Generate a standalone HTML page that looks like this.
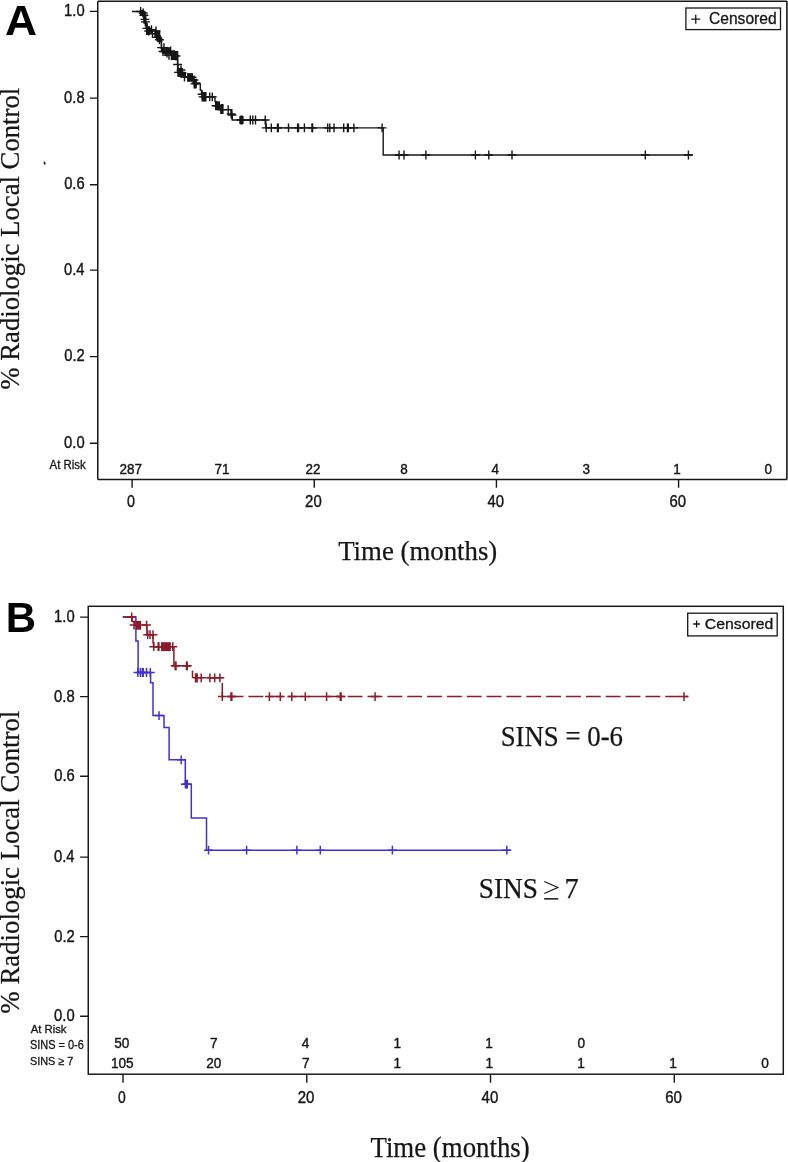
<!DOCTYPE html>
<html><head><meta charset="utf-8"><style>
html,body{margin:0;padding:0;background:#fff;}
body{width:788px;height:1162px;overflow:hidden;}
svg{display:block;will-change:transform;}
</style></head><body>
<svg width="788" height="1162" viewBox="0 0 788 1162">
<rect width="788" height="1162" fill="#fff"/>
<g stroke="#161616" fill="none">
<path d="M97.75 1.3V479.5" stroke-width="1.5"/>
<path d="M97.75 1.3H786.9" stroke-width="1.4"/>
<path d="M786.9 1.3V479.5" stroke-width="1.6"/>
<path d="M97.75 479.5H786.9" stroke-width="1.4"/>
</g>
<path d="M89.9 11.4H97.75M89.9 98.1H97.75M89.9 184.7H97.75M89.9 270.1H97.75M89.9 356.6H97.75M89.9 443.3H97.75M132.1 479.5V487.8M314.26 479.5V487.8M496.42 479.5V487.8M678.58 479.5V487.8" stroke="#161616" stroke-width="1.4" fill="none"/>
<text x="64.11" y="16.00" font-size="16.30" font-family="Liberation Sans, sans-serif" fill="#161616" stroke="#161616" stroke-width="0.4" textLength="20.48" lengthAdjust="spacingAndGlyphs">1.0</text>
<text x="64.11" y="103.00" font-size="16.30" font-family="Liberation Sans, sans-serif" fill="#161616" stroke="#161616" stroke-width="0.4" textLength="20.48" lengthAdjust="spacingAndGlyphs">0.8</text>
<text x="64.18" y="189.00" font-size="16.30" font-family="Liberation Sans, sans-serif" fill="#161616" stroke="#161616" stroke-width="0.4" textLength="20.48" lengthAdjust="spacingAndGlyphs">0.6</text>
<text x="63.96" y="275.00" font-size="16.30" font-family="Liberation Sans, sans-serif" fill="#161616" stroke="#161616" stroke-width="0.4" textLength="20.48" lengthAdjust="spacingAndGlyphs">0.4</text>
<text x="64.26" y="361.00" font-size="16.30" font-family="Liberation Sans, sans-serif" fill="#161616" stroke="#161616" stroke-width="0.4" textLength="20.48" lengthAdjust="spacingAndGlyphs">0.2</text>
<text x="64.11" y="448.00" font-size="16.30" font-family="Liberation Sans, sans-serif" fill="#161616" stroke="#161616" stroke-width="0.4" textLength="20.48" lengthAdjust="spacingAndGlyphs">0.0</text>
<text x="127.03" y="507.00" font-size="16.30" font-family="Liberation Sans, sans-serif" fill="#161616" stroke="#161616" stroke-width="0.4" textLength="7.96" lengthAdjust="spacingAndGlyphs">0</text>
<text x="305.11" y="507.00" font-size="16.30" font-family="Liberation Sans, sans-serif" fill="#161616" stroke="#161616" stroke-width="0.4" textLength="16.58" lengthAdjust="spacingAndGlyphs">20</text>
<text x="487.46" y="507.00" font-size="16.30" font-family="Liberation Sans, sans-serif" fill="#161616" stroke="#161616" stroke-width="0.4" textLength="16.58" lengthAdjust="spacingAndGlyphs">40</text>
<text x="669.43" y="507.00" font-size="16.30" font-family="Liberation Sans, sans-serif" fill="#161616" stroke="#161616" stroke-width="0.4" textLength="16.58" lengthAdjust="spacingAndGlyphs">60</text>
<text x="49.54" y="468.58" font-size="11.97" font-family="Liberation Sans, sans-serif" fill="#161616" stroke="#161616" stroke-width="0.3" textLength="36.18" lengthAdjust="spacingAndGlyphs">At Risk</text>
<text x="119.58" y="474.00" font-size="14.20" font-family="Liberation Sans, sans-serif" fill="#161616" stroke="#161616" stroke-width="0.4" textLength="22.50" lengthAdjust="spacingAndGlyphs">287</text>
<text x="214.40" y="474.00" font-size="14.20" font-family="Liberation Sans, sans-serif" fill="#161616" stroke="#161616" stroke-width="0.4" textLength="15.00" lengthAdjust="spacingAndGlyphs">71</text>
<text x="305.48" y="474.00" font-size="14.20" font-family="Liberation Sans, sans-serif" fill="#161616" stroke="#161616" stroke-width="0.4" textLength="15.00" lengthAdjust="spacingAndGlyphs">22</text>
<text x="400.26" y="474.00" font-size="14.20" font-family="Liberation Sans, sans-serif" fill="#161616" stroke="#161616" stroke-width="0.4" textLength="7.50" lengthAdjust="spacingAndGlyphs">8</text>
<text x="491.41" y="474.00" font-size="14.20" font-family="Liberation Sans, sans-serif" fill="#161616" stroke="#161616" stroke-width="0.4" textLength="7.50" lengthAdjust="spacingAndGlyphs">4</text>
<text x="582.49" y="474.00" font-size="14.20" font-family="Liberation Sans, sans-serif" fill="#161616" stroke="#161616" stroke-width="0.4" textLength="7.50" lengthAdjust="spacingAndGlyphs">3</text>
<text x="673.37" y="474.00" font-size="14.20" font-family="Liberation Sans, sans-serif" fill="#161616" stroke="#161616" stroke-width="0.4" textLength="7.50" lengthAdjust="spacingAndGlyphs">1</text>
<text x="764.62" y="474.00" font-size="14.20" font-family="Liberation Sans, sans-serif" fill="#161616" stroke="#161616" stroke-width="0.4" textLength="7.50" lengthAdjust="spacingAndGlyphs">0</text>
<rect x="685.9" y="8.0" width="94.6" height="21.6" fill="#fff" stroke="#161616" stroke-width="1.3"/>
<path d="M691.3 19.2H700.2M695.75 14.7V23.8" stroke="#161616" stroke-width="1.3"/>
<text x="709.02" y="23.74" font-size="15.65" font-family="Liberation Sans, sans-serif" fill="#161616" stroke="#161616" stroke-width="0.3" textLength="67.61" lengthAdjust="spacingAndGlyphs">Censored</text>
<ellipse cx="44.6" cy="163.1" rx="0.9" ry="1.7" transform="rotate(-20 44.6 163.1)" fill="#222"/>
<text x="4.99" y="34.90" font-size="43.19" font-family="Liberation Sans, sans-serif" font-weight="bold" fill="#000" textLength="32.01" lengthAdjust="spacingAndGlyphs">A</text>
<text x="338.16" y="560.00" font-size="27.33" font-family="Liberation Serif, serif" fill="#161616" stroke="#161616" stroke-width="0.25" textLength="159.14" lengthAdjust="spacingAndGlyphs">Time (months)</text>
<text transform="translate(18.80 0) rotate(-90)" x="-389.73" y="0" font-size="27.00" font-family="Liberation Serif, serif" fill="#161616" stroke="#161616" stroke-width="0.25" textLength="301.92" lengthAdjust="spacingAndGlyphs">% Radiologic Local Control</text>
<path d="M132 11.5L142.5 11.5L142.5 15.3L144 15.3L144 19.4L145 19.4L145 21.9L146 21.9L146 28.4L147.5 28.4L147.5 31L151 31L151 33.6L156 33.6L156 37.4L159 37.4L159 39.8L161.4 39.8L161.4 47.6L163 47.6L163 51.5L166 51.5L166 55.4L177.6 55.4L177.6 64.5L178 64.5L178 72.4L184 72.4L184 77.3L193.5 77.3L193.5 83.9L200.3 83.9L200.3 90.1L201.5 90.1L201.5 94.3L203 94.3L203 96.9L215 96.9L215 101.5L216 101.5L216 105.8L220 105.8L220 109.6L231 109.6L231 115L232.3 115L232.3 120L265.8 120L265.8 127.9L383.2 127.9L383.2 155L692.9 155" stroke="#161616" stroke-width="1.4" fill="none"/>
<g stroke="#161616" stroke-width="1.4" fill="none"><path d="M136.2 11.5H145M140.6 7.1V15.9"/><path d="M138.8 13H147.6M143.2 8.6V17.4"/><path d="M139.6 15.3H148.4M144 10.9V19.7"/><path d="M140.6 19.4H149.4M145 15V23.8"/><path d="M141.1 21.9H149.9M145.5 17.5V26.3"/><path d="M142.6 28.4H151.4M147 24V32.8"/><path d="M144.3 31H153.1M148.7 26.6V35.4"/><path d="M147.1 29.6H155.9M151.5 25.2V34"/><path d="M148.1 33.6H156.9M152.5 29.2V38"/><path d="M151.2 33.6H160M155.6 29.2V38"/><path d="M151.6 31H160.4M156 26.6V35.4"/><path d="M153.1 37.4H161.9M157.5 33V41.8"/><path d="M155.1 39.8H163.9M159.5 35.4V44.2"/><path d="M157.1 47.6H165.9M161.5 43.2V52"/><path d="M158.6 51.5H167.4M163 47.1V55.9"/><path d="M159.6 47.6H168.4M164 43.2V52"/><path d="M160.6 51.5H169.4M165 47.1V55.9"/><path d="M162.6 53H171.4M167 48.6V57.4"/><path d="M164.6 55.4H173.4M169 51V59.8"/><path d="M166.2 51H175M170.6 46.6V55.4"/><path d="M167.6 55.4H176.4M172 51V59.8"/><path d="M169.6 55.4H178.4M174 51V59.8"/><path d="M171.6 56H180.4M176 51.6V60.4"/><path d="M173.2 64.5H182M177.6 60.1V68.9"/><path d="M174.1 72.4H182.9M178.5 68V76.8"/><path d="M175.6 72.4H184.4M180 68V76.8"/><path d="M176.6 70H185.4M181 65.6V74.4"/><path d="M177.6 73H186.4M182 68.6V77.4"/><path d="M180.1 77H188.9M184.5 72.6V81.4"/><path d="M183.6 77.3H192.4M188 72.9V81.7"/><path d="M185.6 77.3H194.4M190 72.9V81.7"/><path d="M187.6 77.3H196.4M192 72.9V81.7"/><path d="M189.6 80H198.4M194 75.6V84.4"/><path d="M190.6 83.9H199.4M195 79.5V88.3"/><path d="M191.6 83H200.4M196 78.6V87.4"/><path d="M197.6 94.3H206.4M202 89.9V98.7"/><path d="M198.6 96.9H207.4M203 92.5V101.3"/><path d="M200.6 96.9H209.4M205 92.5V101.3"/><path d="M205.3 96.9H214.1M209.7 92.5V101.3"/><path d="M207.9 96.9H216.7M212.3 92.5V101.3"/><path d="M211.6 105.8H220.4M216 101.4V110.2"/><path d="M213.1 105.8H221.9M217.5 101.4V110.2"/><path d="M214.6 105.8H223.4M219 101.4V110.2"/><path d="M216.6 109.6H225.4M221 105.2V114"/><path d="M218.1 109.6H226.9M222.5 105.2V114"/><path d="M223.8 109.6H232.6M228.2 105.2V114"/><path d="M226.8 114H235.6M231.2 109.6V118.4"/><path d="M227.6 115H236.4M232 110.6V119.4"/><path d="M236.6 120H245.4M241 115.6V124.4"/><path d="M237.6 120H246.4M242 115.6V124.4"/><path d="M245.9 120H254.7M250.3 115.6V124.4"/><path d="M248.4 120H257.2M252.8 115.6V124.4"/><path d="M251.1 120H259.9M255.5 115.6V124.4"/><path d="M260.8 120H269.6M265.2 115.6V124.4"/><path d="M261.8 127.9H270.6M266.2 123.5V132.3"/><path d="M266.9 127.9H275.7M271.3 123.5V132.3"/><path d="M273.1 127.9H281.9M277.5 123.5V132.3"/><path d="M273.9 127.9H282.7M278.3 123.5V132.3"/><path d="M284.1 127.9H292.9M288.5 123.5V132.3"/><path d="M293.2 127.9H302M297.6 123.5V132.3"/><path d="M294.1 127.9H302.9M298.5 123.5V132.3"/><path d="M300 127.9H308.8M304.4 123.5V132.3"/><path d="M307.6 127.9H316.4M312 123.5V132.3"/><path d="M308.2 127.9H317M312.6 123.5V132.3"/><path d="M323.3 127.9H332.1M327.7 123.5V132.3"/><path d="M325.4 127.9H334.2M329.8 123.5V132.3"/><path d="M329.6 127.9H338.4M334 123.5V132.3"/><path d="M339.3 127.9H348.1M343.7 123.5V132.3"/><path d="M343.1 127.9H351.9M347.5 123.5V132.3"/><path d="M343.9 127.9H352.7M348.3 123.5V132.3"/><path d="M349.5 127.9H358.3M353.9 123.5V132.3"/><path d="M377.7 127.9H386.5M382.1 123.5V132.3"/><path d="M394.7 155H403.5M399.1 150.6V159.4"/><path d="M399.6 155H408.4M404 150.6V159.4"/><path d="M421.5 155H430.3M425.9 150.6V159.4"/><path d="M471 155H479.8M475.4 150.6V159.4"/><path d="M484.4 155H493.2M488.8 150.6V159.4"/><path d="M507.6 155H516.4M512 150.6V159.4"/><path d="M640.9 155H649.7M645.3 150.6V159.4"/><path d="M684 155H692.8M688.4 150.6V159.4"/></g>
<g fill="#161616"><rect x="139.9" y="9.9" width="3.8" height="5.3"/><rect x="142.1" y="11.4" width="3.8" height="5.4"/><rect x="143.3" y="15.2" width="3.1" height="8.4"/><rect x="144.8" y="22.8" width="3" height="3.1"/><rect x="146" y="26.3" width="4.1" height="8.7"/><rect x="154.3" y="30.5" width="6" height="6.5"/><rect x="156" y="35" width="4.8" height="4.6"/><rect x="157.5" y="38" width="4.8" height="4.2"/><rect x="161.8" y="47" width="2.7" height="6.3"/><rect x="165.4" y="47.2" width="5.3" height="6.1"/><rect x="170.7" y="51" width="7.6" height="9"/><rect x="177.4" y="67.9" width="5.6" height="8.9"/><rect x="183" y="72" width="3" height="6"/><rect x="187.3" y="73.5" width="5.7" height="8"/><rect x="193.5" y="79" width="3.1" height="9.5"/><rect x="201.5" y="92" width="5" height="9.5"/><rect x="215" y="101.5" width="5" height="8.5"/><rect x="220.5" y="104" width="3" height="10"/><rect x="239.3" y="116" width="4.3" height="8"/></g>
<rect x="88.25" y="606.3" width="695.05" height="467.9" fill="none" stroke="#161616" stroke-width="1.45"/>
<path d="M80.1 617.1H88.25M80.1 696.6H88.25M80.1 776.3H88.25M80.1 857.1H88.25M80.1 936.6H88.25M80.1 1016.3H88.25M123 1074.2V1082.8M306.76 1074.2V1082.8M490.52 1074.2V1082.8M674.28 1074.2V1082.8" stroke="#161616" stroke-width="1.4" fill="none"/>
<text x="54.11" y="622.00" font-size="16.30" font-family="Liberation Sans, sans-serif" fill="#161616" stroke="#161616" stroke-width="0.4" textLength="20.59" lengthAdjust="spacingAndGlyphs">1.0</text>
<text x="54.11" y="702.00" font-size="16.30" font-family="Liberation Sans, sans-serif" fill="#161616" stroke="#161616" stroke-width="0.4" textLength="20.59" lengthAdjust="spacingAndGlyphs">0.8</text>
<text x="54.18" y="781.00" font-size="16.30" font-family="Liberation Sans, sans-serif" fill="#161616" stroke="#161616" stroke-width="0.4" textLength="20.59" lengthAdjust="spacingAndGlyphs">0.6</text>
<text x="53.96" y="862.00" font-size="16.30" font-family="Liberation Sans, sans-serif" fill="#161616" stroke="#161616" stroke-width="0.4" textLength="20.59" lengthAdjust="spacingAndGlyphs">0.4</text>
<text x="54.26" y="942.00" font-size="16.30" font-family="Liberation Sans, sans-serif" fill="#161616" stroke="#161616" stroke-width="0.4" textLength="20.59" lengthAdjust="spacingAndGlyphs">0.2</text>
<text x="54.11" y="1021.00" font-size="16.30" font-family="Liberation Sans, sans-serif" fill="#161616" stroke="#161616" stroke-width="0.4" textLength="20.59" lengthAdjust="spacingAndGlyphs">0.0</text>
<text x="118.04" y="1103.00" font-size="16.30" font-family="Liberation Sans, sans-serif" fill="#161616" stroke="#161616" stroke-width="0.4" textLength="7.73" lengthAdjust="spacingAndGlyphs">0</text>
<text x="297.66" y="1103.00" font-size="16.30" font-family="Liberation Sans, sans-serif" fill="#161616" stroke="#161616" stroke-width="0.4" textLength="16.69" lengthAdjust="spacingAndGlyphs">20</text>
<text x="481.61" y="1103.00" font-size="16.30" font-family="Liberation Sans, sans-serif" fill="#161616" stroke="#161616" stroke-width="0.4" textLength="16.69" lengthAdjust="spacingAndGlyphs">40</text>
<text x="665.18" y="1103.00" font-size="16.30" font-family="Liberation Sans, sans-serif" fill="#161616" stroke="#161616" stroke-width="0.4" textLength="16.69" lengthAdjust="spacingAndGlyphs">60</text>
<text x="30.64" y="1032.89" font-size="11.43" font-family="Liberation Sans, sans-serif" fill="#161616" stroke="#161616" stroke-width="0.3" textLength="35.88" lengthAdjust="spacingAndGlyphs">At Risk</text>
<text x="29.91" y="1049.48" font-size="12.11" font-family="Liberation Sans, sans-serif" fill="#161616" stroke="#161616" stroke-width="0.3" textLength="53.98" lengthAdjust="spacingAndGlyphs">SINS = 0-6</text>
<text x="29.91" y="1065.29" font-size="11.27" font-family="Liberation Sans, sans-serif" fill="#161616" stroke="#161616" stroke-width="0.3" textLength="43.53" lengthAdjust="spacingAndGlyphs">SINS ≥ 7</text>
<text x="114.24" y="1048.00" font-size="14.20" font-family="Liberation Sans, sans-serif" fill="#161616" stroke="#161616" stroke-width="0.4" textLength="15.16" lengthAdjust="spacingAndGlyphs">50</text>
<text x="209.90" y="1048.00" font-size="14.20" font-family="Liberation Sans, sans-serif" fill="#161616" stroke="#161616" stroke-width="0.4" textLength="7.58" lengthAdjust="spacingAndGlyphs">7</text>
<text x="301.81" y="1048.00" font-size="14.20" font-family="Liberation Sans, sans-serif" fill="#161616" stroke="#161616" stroke-width="0.4" textLength="7.58" lengthAdjust="spacingAndGlyphs">4</text>
<text x="393.49" y="1048.00" font-size="14.20" font-family="Liberation Sans, sans-serif" fill="#161616" stroke="#161616" stroke-width="0.4" textLength="7.58" lengthAdjust="spacingAndGlyphs">1</text>
<text x="485.37" y="1048.00" font-size="14.20" font-family="Liberation Sans, sans-serif" fill="#161616" stroke="#161616" stroke-width="0.4" textLength="7.58" lengthAdjust="spacingAndGlyphs">1</text>
<text x="577.42" y="1048.00" font-size="14.20" font-family="Liberation Sans, sans-serif" fill="#161616" stroke="#161616" stroke-width="0.4" textLength="7.58" lengthAdjust="spacingAndGlyphs">0</text>
<text x="110.92" y="1068.00" font-size="14.20" font-family="Liberation Sans, sans-serif" fill="#161616" stroke="#161616" stroke-width="0.4" textLength="22.74" lengthAdjust="spacingAndGlyphs">105</text>
<text x="206.15" y="1068.00" font-size="14.20" font-family="Liberation Sans, sans-serif" fill="#161616" stroke="#161616" stroke-width="0.4" textLength="15.16" lengthAdjust="spacingAndGlyphs">20</text>
<text x="301.88" y="1068.00" font-size="14.20" font-family="Liberation Sans, sans-serif" fill="#161616" stroke="#161616" stroke-width="0.4" textLength="7.58" lengthAdjust="spacingAndGlyphs">7</text>
<text x="393.59" y="1068.00" font-size="14.20" font-family="Liberation Sans, sans-serif" fill="#161616" stroke="#161616" stroke-width="0.4" textLength="7.58" lengthAdjust="spacingAndGlyphs">1</text>
<text x="485.47" y="1068.00" font-size="14.20" font-family="Liberation Sans, sans-serif" fill="#161616" stroke="#161616" stroke-width="0.4" textLength="7.58" lengthAdjust="spacingAndGlyphs">1</text>
<text x="577.35" y="1068.00" font-size="14.20" font-family="Liberation Sans, sans-serif" fill="#161616" stroke="#161616" stroke-width="0.4" textLength="7.58" lengthAdjust="spacingAndGlyphs">1</text>
<text x="669.23" y="1068.00" font-size="14.20" font-family="Liberation Sans, sans-serif" fill="#161616" stroke="#161616" stroke-width="0.4" textLength="7.58" lengthAdjust="spacingAndGlyphs">1</text>
<text x="761.28" y="1068.00" font-size="14.20" font-family="Liberation Sans, sans-serif" fill="#161616" stroke="#161616" stroke-width="0.4" textLength="7.58" lengthAdjust="spacingAndGlyphs">0</text>
<rect x="687.7" y="613.2" width="89.5" height="22.7" fill="#fff" stroke="#161616" stroke-width="1.3"/>
<path d="M693.2 624H700M696.6 620.6V627.4" stroke="#161616" stroke-width="1.3"/>
<text x="704.81" y="628.75" font-size="14.83" font-family="Liberation Sans, sans-serif" fill="#161616" stroke="#161616" stroke-width="0.3" textLength="68.53" lengthAdjust="spacingAndGlyphs">Censored</text>
<text x="5.77" y="632.40" font-size="42.46" font-family="Liberation Sans, sans-serif" font-weight="bold" fill="#000" textLength="30.31" lengthAdjust="spacingAndGlyphs">B</text>
<text x="370.46" y="1156.50" font-size="28.85" font-family="Liberation Serif, serif" fill="#161616" stroke="#161616" stroke-width="0.25" textLength="159.24" lengthAdjust="spacingAndGlyphs">Time (months)</text>
<text transform="translate(18.80 0) rotate(-90)" x="-1013.64" y="0" font-size="27.00" font-family="Liberation Serif, serif" fill="#161616" stroke="#161616" stroke-width="0.25" textLength="302.93" lengthAdjust="spacingAndGlyphs">% Radiologic Local Control</text>
<text x="500.66" y="746.21" font-size="29.25" font-family="Liberation Serif, serif" fill="#161616" stroke="#161616" stroke-width="0.25" textLength="122.34" lengthAdjust="spacingAndGlyphs">SINS = 0-6</text>
<text x="478.83" y="897.71" font-size="29.10" font-family="Liberation Serif, serif" fill="#161616" stroke="#161616" stroke-width="0.25" textLength="59.18" lengthAdjust="spacingAndGlyphs">SINS</text>
<text x="564.45" y="897.90" font-size="28.40" font-family="Liberation Serif, serif" fill="#161616" stroke="#161616" stroke-width="0.25" textLength="14.20" lengthAdjust="spacingAndGlyphs">7</text>
<path d="M544.3 881.5L557.9 887.5L544.3 893.5" stroke="#161616" stroke-width="1.15" fill="none"/>
<rect x="544.2" y="898.1" width="14.1" height="1.5" fill="#161616"/>
<path d="M123 616.9L135.9 616.9L135.9 641L138.1 641L138.1 672.5L150.6 672.5L150.6 682.7L153 682.7L153 715.6L164 715.6L164 727.6L169.1 727.6L169.1 759.8L185.3 759.8L185.3 784.2L191.3 784.2L191.3 818L206.5 818L206.5 850.2L510.9 850.2" stroke="#4430d0" stroke-width="1.5" fill="none"/>
<g stroke="#4430d0" stroke-width="1.5" fill="none"><path d="M133.5 672.5H142.3M137.9 668.1V676.9"/><path d="M136 672.5H144.8M140.4 668.1V676.9"/><path d="M138 672.5H146.8M142.4 668.1V676.9"/><path d="M138.8 672.5H147.6M143.2 668.1V676.9"/><path d="M142.1 672.5H150.9M146.5 668.1V676.9"/><path d="M145.9 672.5H154.7M150.3 668.1V676.9"/><path d="M154.6 715.6H163.4M159 711.2V720"/><path d="M176.8 759.8H185.6M181.2 755.4V764.2"/><path d="M181 784.2H189.8M185.4 779.8V788.6"/><path d="M182 784.2H190.8M186.4 779.8V788.6"/><path d="M182.9 784.2H191.7M187.3 779.8V788.6"/><path d="M204.1 850.2H212.9M208.5 845.8V854.6"/><path d="M242.2 850.2H251M246.6 845.8V854.6"/><path d="M292.5 850.2H301.3M296.9 845.8V854.6"/><path d="M315.9 850.2H324.7M320.3 845.8V854.6"/><path d="M388 850.2H396.8M392.4 845.8V854.6"/><path d="M502.4 850.2H511.2M506.8 845.8V854.6"/></g>
<path d="M122.6 616.9L132.1 616.9L132.1 621.6L134.8 621.6L134.8 625.1L146.9 625.1L146.9 634.7L153 634.7L153 642.7L153.5 642.7L153.5 646.7L173.9 646.7L173.9 665.8L191.2 665.8" stroke="#8b1a2b" stroke-width="1.5" fill="none"/>
<path d="M192.5 670.6V677.8" stroke="#8b1a2b" stroke-width="1.5"/>
<path d="M192.5 677.8L222.3 677.8L222.3 696.6L688.2 696.6" stroke="#8b1a2b" stroke-width="1.5" fill="none" stroke-dasharray="14.9 4.95" stroke-dashoffset="4.70"/>
<g stroke="#8b1a2b" stroke-width="1.5" fill="none"><path d="M127.3 616.9H136.1M131.7 612.5V621.3"/><path d="M129.6 625.1H138.4M134 620.7V629.5"/><path d="M142.2 625.1H151M146.6 620.7V629.5"/><path d="M143.3 634.7H152.1M147.7 630.3V639.1"/><path d="M145.6 634.7H154.4M150 630.3V639.1"/><path d="M148.6 634.7H157.4M153 630.3V639.1"/><path d="M149.4 646.7H158.2M153.8 642.3V651.1"/><path d="M153.8 646.7H162.6M158.2 642.3V651.1"/><path d="M154.5 646.7H163.3M158.9 642.3V651.1"/><path d="M168.4 646.7H177.2M172.8 642.3V651.1"/><path d="M170.8 665.8H179.6M175.2 661.4V670.2"/><path d="M171.6 665.8H180.4M176 661.4V670.2"/><path d="M182.1 665.8H190.9M186.5 661.4V670.2"/><path d="M182.8 665.8H191.6M187.2 661.4V670.2"/><path d="M196.8 677.8H205.6M201.2 673.4V682.2"/><path d="M205.5 677.8H214.3M209.9 673.4V682.2"/><path d="M210.3 677.8H219.1M214.7 673.4V682.2"/><path d="M215.5 677.8H224.3M219.9 673.4V682.2"/><path d="M217.9 696.6H226.7M222.3 692.2V701"/><path d="M226.6 696.6H235.4M231 692.2V701"/><path d="M227.4 696.6H236.2M231.8 692.2V701"/><path d="M265 696.6H273.8M269.4 692.2V701"/><path d="M275.9 696.6H284.7M280.3 692.2V701"/><path d="M287.4 696.6H296.2M291.8 692.2V701"/><path d="M300.9 696.6H309.7M305.3 692.2V701"/><path d="M322.2 696.6H331M326.6 692.2V701"/><path d="M335.9 696.6H344.7M340.3 692.2V701"/><path d="M336.7 696.6H345.5M341.1 692.2V701"/><path d="M370.7 696.6H379.5M375.1 692.2V701"/><path d="M679.6 696.6H688.4M684 692.2V701"/></g>
<g fill="#8b1a2b"><rect x="135.9" y="620.9" width="5.2" height="8.8"/><rect x="161" y="642.2" width="9.8" height="8.9"/><rect x="194.8" y="673.3" width="3.1" height="9.2"/></g>
</svg>
</body></html>
